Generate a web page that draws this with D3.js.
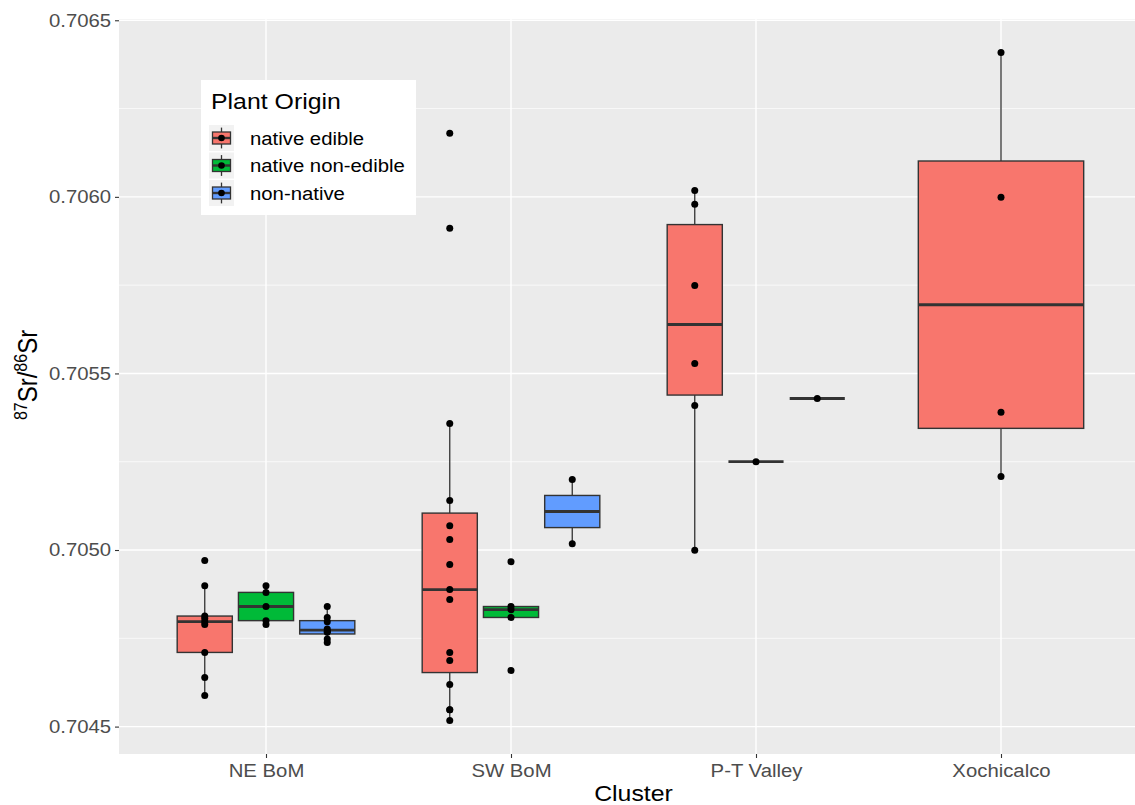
<!DOCTYPE html>
<html>
<head>
<meta charset="utf-8">
<script src="https://cdn.jsdelivr.net/npm/d3@7"></script>
<style>
  body { margin: 0; background: #fff; }
  svg { display: block; font-family: "Liberation Sans", Arial, sans-serif; }
</style>
</head>
<body>
<svg id="chart" width="1135" height="805"></svg>
<script>
// categories
const clusters = ["NE BoM", "SW BoM", "P-T Valley", "Xochicalco"];
const origins = ["native edible", "native non-edible", "non-native"];
const originColors = ["#F8766D", "#00BA38", "#619CFF"];

// 87Sr/86Sr values, one array per cluster / plant origin
const neEdible = [0.704970, 0.704899, 0.704813, 0.704806, 0.704797, 0.704789, 0.704710, 0.704639, 0.704588];
const neNonEdible = [0.704899, 0.704880, 0.704840, 0.704800, 0.704789];
const neNonNative = [0.704840, 0.704809, 0.704797, 0.704776, 0.704770, 0.704767, 0.704748, 0.704738];

const swEdible = [0.706180, 0.705911, 0.705358, 0.705140, 0.705069, 0.705030, 0.704959, 0.704888,
                  0.704860, 0.704710, 0.704687, 0.704619, 0.704548, 0.704548, 0.704517];
const swNonEdible = [0.704967, 0.704840, 0.704831, 0.704809, 0.704659];
const swNonNative = [0.705200, 0.705018];

const ptEdible = [0.706018, 0.705979, 0.705749, 0.705528, 0.705409, 0.704999];
const ptNonEdible = [0.705250];
const ptNonNative = [0.705429];

const xoEdible = [0.706409, 0.705999, 0.705390, 0.705208];

const samples = [
    { cluster: "NE BoM", origin: "native edible", values: neEdible },
    { cluster: "NE BoM", origin: "native non-edible", values: neNonEdible },
    { cluster: "NE BoM", origin: "non-native", values: neNonNative },
    { cluster: "SW BoM", origin: "native edible", values: swEdible },
    { cluster: "SW BoM", origin: "native non-edible", values: swNonEdible },
    { cluster: "SW BoM", origin: "non-native", values: swNonNative },
    { cluster: "P-T Valley", origin: "native edible", values: ptEdible },
    { cluster: "P-T Valley", origin: "native non-edible", values: ptNonEdible },
    { cluster: "P-T Valley", origin: "non-native", values: ptNonNative },
    { cluster: "Xochicalco", origin: "native edible", values: xoEdible }
];

const W = 1135, H = 805;
const margin = { top: 19, left: 119, bottom: 51 };
const panelW = 1029;
const stretch = 1.13;   // text in the picture is a bit wider than the font

const svg = d3.select("#chart");

const color = d3.scaleOrdinal().domain(origins).range(originColors);

const x = d3.scaleLinear()
    .domain([0.4, clusters.length + 0.6])
    .range([margin.left, margin.left + panelW]);

let allValues = samples.flatMap(d => d.values);
let lo = d3.min(allValues), hi = d3.max(allValues);
let pad = (hi - lo) * 0.05;
const y = d3.scaleLinear()
    .domain([lo - pad, hi + pad])
    .range([H - margin.bottom, margin.top]);

function boxStats(values){
    let v = values.slice().sort(d3.ascending);
    let q1 = d3.quantileSorted(v, 0.25);
    let med = d3.quantileSorted(v, 0.5);
    let q3 = d3.quantileSorted(v, 0.75);
    let iqr = q3 - q1;
    let upper = d3.max(v.filter(d => d <= q3 + 1.5 * iqr));
    let lower = d3.min(v.filter(d => d >= q1 - 1.5 * iqr));
    return { q1, med, q3, upper, lower };
}

// dodge positions like ggplot (width 0.75, box 0.9 of slot)
samples.forEach(s => {
    let inCluster = samples.filter(d => d.cluster == s.cluster);
    let n = inCluster.length;
    let k = inCluster.indexOf(s);
    let slot = 0.75 / n;
    s.pos = clusters.indexOf(s.cluster) + 1 - 0.375 + (k + 0.5) * slot;
    s.halfWidth = slot * 0.9 / 2;
    s.stats = boxStats(s.values);
});

// panel
let panel = svg.append("g").attr("class", "panel");
panel.append("rect")
    .attr("x", margin.left)
    .attr("y", margin.top)
    .attr("width", panelW)
    .attr("height", H - margin.bottom - margin.top)
    .attr("fill", "#EBEBEB");

let majors = y.ticks(5);
let step = majors[1] - majors[0];
let minors = [majors[0] - step / 2].concat(majors.map(t => t + step / 2))
    .filter(t => t > y.domain()[0] && t < y.domain()[1]);

panel.selectAll(".minor")
    .data(minors)
    .join("line")
    .attr("class", "minor")
    .attr("x1", margin.left).attr("x2", margin.left + panelW)
    .attr("y1", d => y(d)).attr("y2", d => y(d))
    .attr("stroke", "#fff").attr("stroke-width", 0.7);

panel.selectAll(".majorY")
    .data(majors)
    .join("line")
    .attr("class", "majorY")
    .attr("x1", margin.left).attr("x2", margin.left + panelW)
    .attr("y1", d => y(d)).attr("y2", d => y(d))
    .attr("stroke", "#fff").attr("stroke-width", 1.4);

panel.selectAll(".majorX")
    .data(clusters)
    .join("line")
    .attr("class", "majorX")
    .attr("x1", (d, i) => x(i + 1)).attr("x2", (d, i) => x(i + 1))
    .attr("y1", margin.top).attr("y2", H - margin.bottom)
    .attr("stroke", "#fff").attr("stroke-width", 1.4);

// boxplots
let boxes = svg.append("g").attr("class", "boxes")
    .selectAll("g")
    .data(samples)
    .join("g");

boxes.append("line")
    .attr("x1", d => x(d.pos)).attr("x2", d => x(d.pos))
    .attr("y1", d => y(d.stats.upper)).attr("y2", d => y(d.stats.q3))
    .attr("stroke", "#333").attr("stroke-width", 1.3);

boxes.append("line")
    .attr("x1", d => x(d.pos)).attr("x2", d => x(d.pos))
    .attr("y1", d => y(d.stats.q1)).attr("y2", d => y(d.stats.lower))
    .attr("stroke", "#333").attr("stroke-width", 1.3);

boxes.append("rect")
    .attr("x", d => x(d.pos - d.halfWidth))
    .attr("y", d => y(d.stats.q3))
    .attr("width", d => x(d.pos + d.halfWidth) - x(d.pos - d.halfWidth))
    .attr("height", d => y(d.stats.q1) - y(d.stats.q3))
    .attr("fill", d => color(d.origin))
    .attr("stroke", "#333").attr("stroke-width", 1.4);

boxes.append("line")
    .attr("x1", d => x(d.pos - d.halfWidth)).attr("x2", d => x(d.pos + d.halfWidth))
    .attr("y1", d => y(d.stats.med)).attr("y2", d => y(d.stats.med))
    .attr("stroke", "#333").attr("stroke-width", 2.8);

// points
let points = samples.flatMap(s => s.values.map(v => ({ pos: s.pos, value: v })));
svg.append("g").attr("class", "points")
    .selectAll("circle")
    .data(points)
    .join("circle")
    .attr("cx", d => x(d.pos))
    .attr("cy", d => y(d.value))
    .attr("r", 3.5)
    .attr("fill", "#000");

// axes
let yAxis = svg.append("g")
    .attr("transform", `translate(${margin.left},0)`)
    .call(d3.axisLeft(y).tickValues(majors).tickFormat(d3.format(".4f"))
        .tickSize(4).tickPadding(3).tickSizeOuter(0));

let xAxis = svg.append("g")
    .attr("transform", `translate(0,${H - margin.bottom})`)
    .call(d3.axisBottom(x).tickValues(clusters.map((d, i) => i + 1))
        .tickFormat((d, i) => clusters[i])
        .tickSize(4).tickPadding(6).tickSizeOuter(0));

[yAxis, xAxis].forEach(a => {
    a.select(".domain").remove();
    a.selectAll(".tick line").attr("stroke", "#333").attr("stroke-width", 1.1);
    a.selectAll(".tick text")
        .attr("fill", "#4D4D4D")
        .attr("font-size", 18)
        .attr("font-family", "Liberation Sans, Arial, sans-serif")
        .attr("transform", `scale(${stretch},1)`);
});

// axis titles
svg.append("text")
    .attr("transform", `translate(${margin.left + panelW / 2},801) scale(${stretch},1)`)
    .attr("text-anchor", "middle")
    .attr("font-size", 22)
    .attr("fill", "#000")
    .text("Cluster");

let yTitle = svg.append("text")
    .attr("transform", `translate(37,375) scale(${stretch},1) rotate(-90)`)
    .attr("text-anchor", "middle")
    .attr("font-size", 24)
    .attr("fill", "#000");
yTitle.append("tspan").attr("font-size", 16).attr("dy", -9).text("87");
yTitle.append("tspan").attr("dy", 9).text("Sr/");
yTitle.append("tspan").attr("font-size", 16).attr("dy", -9).text("86");
yTitle.append("tspan").attr("dy", 9).text("Sr");

// legend
let legend = svg.append("g").attr("class", "legend");
legend.append("rect")
    .attr("x", 201).attr("y", 80)
    .attr("width", 215).attr("height", 135)
    .attr("fill", "#fff");

legend.append("text")
    .attr("transform", `translate(211,109) scale(${stretch},1)`)
    .attr("font-size", 22)
    .attr("fill", "#000")
    .text("Plant Origin");

let keys = legend.selectAll(".key")
    .data(origins)
    .join("g")
    .attr("class", "key")
    .attr("transform", (d, i) => `translate(209,${125 + i * 27.5})`);

keys.append("rect")
    .attr("width", 25).attr("height", 26)
    .attr("fill", "#F2F2F2");
keys.append("line")
    .attr("x1", 12.5).attr("x2", 12.5).attr("y1", 2.6).attr("y2", 23.4)
    .attr("stroke", "#333").attr("stroke-width", 1.3);
keys.append("rect")
    .attr("x", 3.5).attr("y", 7).attr("width", 18).attr("height", 12)
    .attr("fill", d => color(d))
    .attr("stroke", "#333").attr("stroke-width", 1.3);
keys.append("line")
    .attr("x1", 3.5).attr("x2", 21.5).attr("y1", 13).attr("y2", 13)
    .attr("stroke", "#333").attr("stroke-width", 2.4);
keys.append("circle")
    .attr("cx", 12.5).attr("cy", 13).attr("r", 3.3)
    .attr("fill", "#000");
keys.append("text")
    .attr("transform", `translate(41,19.5) scale(${stretch},1)`)
    .attr("font-size", 18)
    .attr("fill", "#000")
    .text(d => d);
</script>
</body>
</html>
